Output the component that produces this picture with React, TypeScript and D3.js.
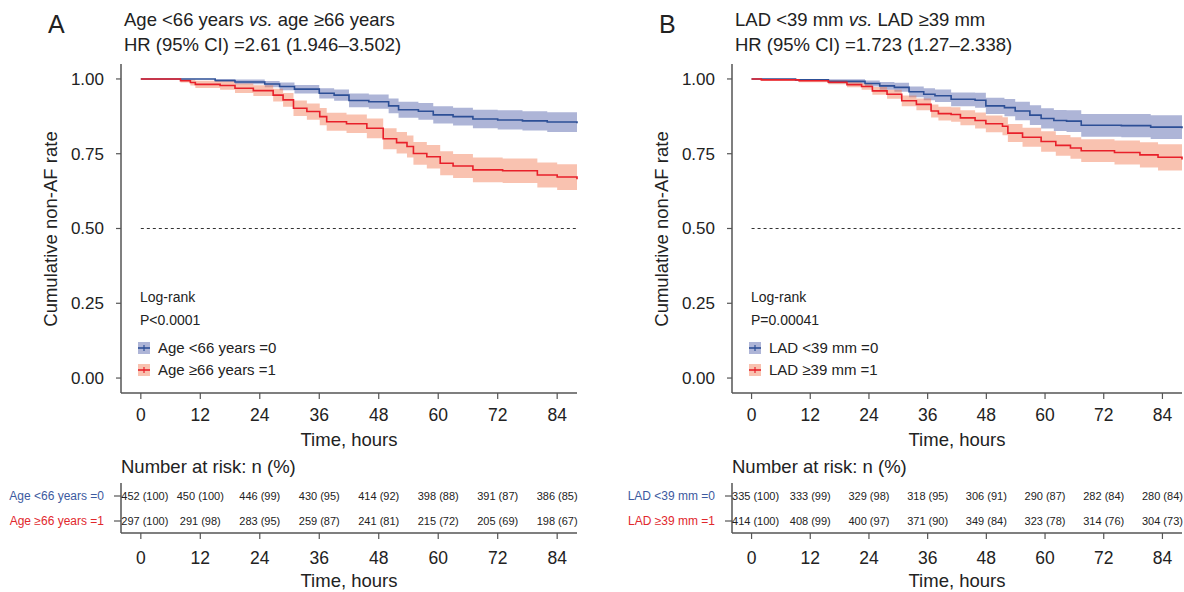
import React from "react";
import * as d3 from "d3";

// ---- data ----
const timeTicks = [0, 12, 24, 36, 48, 60, 72, 84];
const yTicks = [0, 0.25, 0.5, 0.75, 1];

// Panel A: age
const tA0 = [0, 15, 19, 25, 28, 31, 36, 39, 42, 46, 50, 52, 56, 59, 63, 67, 72, 77, 82, 88];
const sA0 = [1, 0.995, 0.99, 0.983, 0.975, 0.966, 0.952, 0.946, 0.928, 0.924, 0.91, 0.897, 0.892, 0.88, 0.874, 0.866, 0.863, 0.86, 0.856, 0.852];
const upA0 = [1, 1, 0.998, 0.993, 0.988, 0.98, 0.969, 0.965, 0.951, 0.948, 0.935, 0.924, 0.92, 0.909, 0.904, 0.897, 0.895, 0.892, 0.889, 0.886];
const loA0 = [1, 0.99, 0.982, 0.972, 0.962, 0.951, 0.935, 0.927, 0.905, 0.9, 0.885, 0.87, 0.864, 0.851, 0.844, 0.835, 0.831, 0.828, 0.823, 0.818];

const tA1 = [0, 8, 10, 11, 16, 19, 22.7, 26.7, 28.7, 30.8, 33.5, 36.1, 37.5, 41.5, 45.6, 48.9, 51.6, 53.7, 55, 57.7, 60.4, 63, 67, 73, 80, 84, 88];
const sA1 = [1, 0.994, 0.988, 0.982, 0.978, 0.969, 0.961, 0.946, 0.93, 0.902, 0.891, 0.874, 0.857, 0.85, 0.835, 0.8, 0.787, 0.774, 0.751, 0.74, 0.718, 0.709, 0.696, 0.693, 0.679, 0.672, 0.665];
const upA1 = [1, 1, 0.998, 0.994, 0.992, 0.985, 0.979, 0.967, 0.953, 0.928, 0.918, 0.903, 0.887, 0.881, 0.868, 0.835, 0.823, 0.811, 0.789, 0.779, 0.758, 0.749, 0.737, 0.734, 0.721, 0.715, 0.709];
const loA1 = [1, 0.988, 0.978, 0.97, 0.964, 0.953, 0.943, 0.925, 0.907, 0.876, 0.864, 0.845, 0.827, 0.819, 0.802, 0.765, 0.751, 0.737, 0.713, 0.701, 0.678, 0.669, 0.655, 0.652, 0.637, 0.629, 0.621];

const riskA0 = ["452 (100)", "450 (100)", "446 (99)", "430 (95)", "414 (92)", "398 (88)", "391 (87)", "386 (85)"];
const riskA1 = ["297 (100)", "291 (98)", "283 (95)", "259 (87)", "241 (81)", "215 (72)", "205 (69)", "198 (67)"];

// Panel B: LAD
const tB0 = [0, 9, 15.7, 23.2, 26.2, 29.2, 32.2, 35.2, 37.5, 40.8, 45.7, 47.9, 51.7, 53.9, 56.9, 59.2, 61.8, 64.4, 67.4, 75.6, 81.6, 88];
const sB0 = [1, 0.997, 0.992, 0.985, 0.977, 0.972, 0.957, 0.949, 0.944, 0.932, 0.929, 0.91, 0.904, 0.893, 0.879, 0.868, 0.861, 0.859, 0.845, 0.844, 0.839, 0.835];
const upB0 = [1, 1, 0.999, 0.995, 0.99, 0.987, 0.975, 0.969, 0.965, 0.955, 0.954, 0.937, 0.933, 0.924, 0.912, 0.902, 0.896, 0.895, 0.883, 0.883, 0.879, 0.875];
const loB0 = [1, 0.993, 0.985, 0.975, 0.964, 0.957, 0.939, 0.929, 0.923, 0.909, 0.904, 0.883, 0.875, 0.862, 0.846, 0.834, 0.826, 0.823, 0.807, 0.805, 0.799, 0.795];

const tB1 = [0, 2, 9.7, 15.7, 19.5, 22.5, 24.7, 27.7, 30.7, 33.7, 36.7, 38.2, 40.8, 42.7, 45.7, 47.9, 51.3, 52.4, 55.4, 59.2, 62.2, 65.2, 67.4, 74.2, 79.4, 83.1, 88];
const sB1 = [1, 0.997, 0.994, 0.989, 0.981, 0.975, 0.96, 0.949, 0.927, 0.915, 0.893, 0.884, 0.881, 0.87, 0.861, 0.85, 0.842, 0.819, 0.805, 0.791, 0.778, 0.769, 0.76, 0.754, 0.746, 0.738, 0.731];
const upB1 = [1, 1, 0.999, 0.996, 0.99, 0.986, 0.973, 0.964, 0.945, 0.935, 0.915, 0.907, 0.905, 0.895, 0.888, 0.878, 0.872, 0.849, 0.837, 0.825, 0.813, 0.805, 0.798, 0.794, 0.788, 0.782, 0.776];
const loB1 = [1, 0.994, 0.989, 0.982, 0.972, 0.964, 0.947, 0.934, 0.909, 0.895, 0.871, 0.861, 0.857, 0.845, 0.834, 0.822, 0.812, 0.789, 0.773, 0.757, 0.743, 0.733, 0.722, 0.714, 0.704, 0.694, 0.686];

const riskB0 = ["335 (100)", "333 (99)", "329 (98)", "318 (95)", "306 (91)", "290 (87)", "282 (84)", "280 (84)"];
const riskB1 = ["414 (100)", "408 (99)", "400 (97)", "371 (90)", "349 (84)", "323 (78)", "314 (76)", "304 (73)"];

const FONT = "'Liberation Sans', Arial, Helvetica, sans-serif";
const AXIS = "#555";
const BLUE = "#2d4f96";
const RED = "#e8202a";
const BLUE_BAND = "#5e6cb0";
const RED_BAND = "#f27850";
const BLUE_TXT = "#3c5aa0";
const RED_TXT = "#e1282d";

type Series = { t: number[]; s: number[]; up: number[]; lo: number[] };

function zip(d: Series) {
  return d.t.map((t, i) => ({ t, s: d.s[i], up: d.up[i], lo: d.lo[i] }));
}

function Panel(props: {
  left: number;
  right: number;
  letter: string;
  title: [string, string];
  hr: string;
  pval: string;
  labels: [string, string];
  g0: Series;
  g1: Series;
  risk0: string[];
  risk1: string[];
}) {
  const { left, right } = props;
  const x = d3.scaleLinear().domain([-4, 88]).range([left, right]);
  const y = d3.scaleLinear().domain([-0.05, 1.05]).range([393, 64]);

  const line = d3
    .line<{ t: number; s: number }>()
    .x((d) => x(d.t))
    .y((d) => y(d.s))
    .curve(d3.curveStepAfter);
  const band = d3
    .area<{ t: number; up: number; lo: number }>()
    .x((d) => x(d.t))
    .y0((d) => y(d.lo))
    .y1((d) => y(d.up))
    .curve(d3.curveStepAfter);

  const d0 = zip(props.g0);
  const d1 = zip(props.g1);
  const lab = left - 17;

  const riskRows = [
    { y: 496, vals: props.risk0, label: props.labels[0], color: BLUE_TXT },
    { y: 521, vals: props.risk1, label: props.labels[1], color: RED_TXT },
  ];

  return (
    <g fontFamily={FONT} fill="#222">
      <text x={left - 73} y={33} fontSize={25}>{props.letter}</text>
      <text x={left + 3} y={26} fontSize={18.5}>
        {props.title[0]}
        <tspan fontStyle="italic">vs.</tspan>
        {props.title[1]}
      </text>
      <text x={left + 3} y={51} fontSize={18.5}>{props.hr}</text>

      {/* bands + curves */}
      <path d={band(d0) || ""} fill={BLUE_BAND} fillOpacity={0.5} />
      <path d={band(d1) || ""} fill={RED_BAND} fillOpacity={0.45} />
      <path d={line(d0) || ""} fill="none" stroke={BLUE} strokeWidth={1.6} />
      <path d={line(d1) || ""} fill="none" stroke={RED} strokeWidth={1.6} />
      <line x1={x(0)} x2={x(88)} y1={y(0.5)} y2={y(0.5)} stroke="#333" strokeWidth={1} strokeDasharray="3,3" />

      {/* y axis */}
      <line x1={left} x2={left} y1={64} y2={393} stroke={AXIS} strokeWidth={1.5} />
      {yTicks.map((v) => (
        <g key={v}>
          <line x1={left - 5} x2={left} y1={y(v)} y2={y(v)} stroke={AXIS} strokeWidth={1.2} />
          <text x={lab} y={y(v)} dy="0.35em" textAnchor="end" fontSize={17}>{v.toFixed(2)}</text>
        </g>
      ))}
      <text transform={`translate(${left - 64},229) rotate(-90)`} textAnchor="middle" fontSize={18.5}>
        Cumulative non-AF rate
      </text>

      {/* x axis */}
      <line x1={left} x2={right} y1={393} y2={393} stroke={AXIS} strokeWidth={1.5} />
      {timeTicks.map((v) => (
        <g key={v}>
          <line x1={x(v)} x2={x(v)} y1={393} y2={399} stroke={AXIS} strokeWidth={1.2} />
          <text x={x(v)} y={421} textAnchor="middle" fontSize={17.5}>{v}</text>
        </g>
      ))}
      <text x={(x(0) + x(84)) / 2} y={446} textAnchor="middle" fontSize={18.5}>Time, hours</text>

      {/* legend */}
      <text x={left + 19} y={302} fontSize={14}>Log-rank</text>
      <text x={left + 19} y={325} fontSize={14}>{props.pval}</text>
      {[
        { yc: 348, band: BLUE_BAND, op: 0.5, col: BLUE, label: props.labels[0] },
        { yc: 370, band: RED_BAND, op: 0.45, col: RED, label: props.labels[1] },
      ].map((k) => (
        <g key={k.label}>
          <rect x={left + 17} y={k.yc - 6} width={12} height={12} fill={k.band} fillOpacity={k.op} />
          <line x1={left + 17} x2={left + 29} y1={k.yc} y2={k.yc} stroke={k.col} strokeWidth={1.6} />
          <line x1={left + 23} x2={left + 23} y1={k.yc - 3} y2={k.yc + 3} stroke={k.col} strokeWidth={1.2} />
          <text x={left + 37} y={k.yc} dy="0.35em" fontSize={15}>{k.label}</text>
        </g>
      ))}

      {/* risk table */}
      <text x={left} y={473} fontSize={18.5}>Number at risk: n (%)</text>
      <line x1={left} x2={left} y1={483} y2={533} stroke={AXIS} strokeWidth={1.5} />
      {riskRows.map((r) => (
        <g key={r.label}>
          <line x1={left - 7} x2={left} y1={r.y} y2={r.y} stroke={AXIS} strokeWidth={1.2} />
          <text x={lab} y={r.y} dy="0.35em" textAnchor="end" fontSize={12} fill={r.color}>{r.label}</text>
          {r.vals.map((v, i) => (
            <text key={i} x={x(timeTicks[i]) + (i === 0 ? 4 : 0)} y={r.y} dy="0.35em" textAnchor="middle" fontSize={11}>{v}</text>
          ))}
        </g>
      ))}
      <line x1={left} x2={right} y1={533} y2={533} stroke={AXIS} strokeWidth={1.5} />
      {timeTicks.map((v) => (
        <g key={v}>
          <line x1={x(v)} x2={x(v)} y1={533} y2={539} stroke={AXIS} strokeWidth={1.2} />
          <text x={x(v)} y={564} textAnchor="middle" fontSize={17.5}>{v}</text>
        </g>
      ))}
      <text x={(x(0) + x(84)) / 2} y={587} textAnchor="middle" fontSize={18.5}>Time, hours</text>
    </g>
  );
}

export default function App() {
  return (
    <svg
      width={1184}
      height={592}
      style={{ position: "absolute", left: 0, top: 0, background: "#fff" }}
    >
      <Panel
        left={121}
        right={577}
        letter="A"
        title={["Age <66 years ", " age ≥66 years"]}
        hr="HR (95% CI) =2.61 (1.946–3.502)"
        pval="P<0.0001"
        labels={["Age <66 years =0", "Age ≥66 years =1"]}
        g0={{ t: tA0, s: sA0, up: upA0, lo: loA0 }}
        g1={{ t: tA1, s: sA1, up: upA1, lo: loA1 }}
        risk0={riskA0}
        risk1={riskA1}
      />
      <Panel
        left={732}
        right={1182}
        letter="B"
        title={["LAD <39 mm ", " LAD ≥39 mm"]}
        hr="HR (95% CI) =1.723 (1.27–2.338)"
        pval="P=0.00041"
        labels={["LAD <39 mm =0", "LAD ≥39 mm =1"]}
        g0={{ t: tB0, s: sB0, up: upB0, lo: loB0 }}
        g1={{ t: tB1, s: sB1, up: upB1, lo: loB1 }}
        risk0={riskB0}
        risk1={riskB1}
      />
    </svg>
  );
}
